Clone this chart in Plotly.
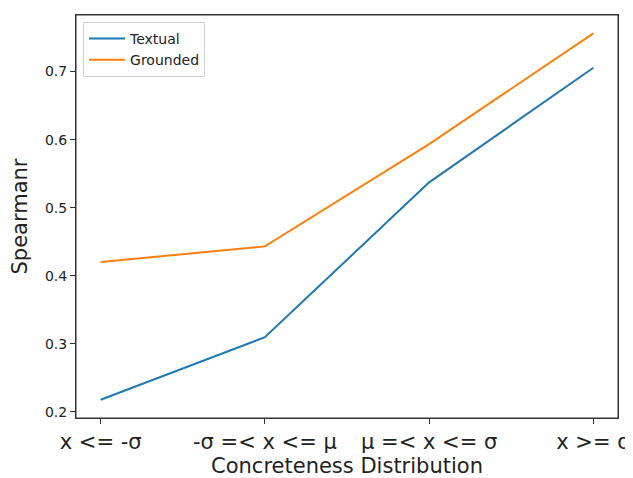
import plotly.graph_objects as go

categories = ["x <= -σ", "-σ =< x <= μ", "μ =< x <= σ", "x >= σ"]
textual = [0.2176, 0.3094, 0.5372, 0.7056]
grounded = [0.4200, 0.4430, 0.5934, 0.7563]
y_ticks = [0.2, 0.3, 0.4, 0.5, 0.6, 0.7]

xpos = list(range(len(categories)))

fig = go.Figure()
fig.add_trace(go.Scatter(x=xpos, y=textual, mode="lines", name="Textual",
                         line=dict(color="#1f77b4", width=2)))
fig.add_trace(go.Scatter(x=xpos, y=grounded, mode="lines", name="Grounded",
                         line=dict(color="#ff7f0e", width=2)))

font = "DejaVu Sans, sans-serif"
# page body has an 8px margin, so the figure is sized/offset to compensate
fig.update_layout(
    width=625, height=470,
    margin=dict(l=68, r=15, t=7, b=60),
    paper_bgcolor="white", plot_bgcolor="white",
    font=dict(family=font, color="#222"),
    showlegend=True,
    legend=dict(x=0.013, y=0.983, xanchor="left", yanchor="top",
                bgcolor="rgba(255,255,255,0.8)", bordercolor="#d0d0d0", borderwidth=1,
                itemwidth=36,
                font=dict(size=14, family=font, color="#222"), tracegroupgap=0),
    xaxis=dict(
        range=[-0.15, 3.15], tickmode="array", tickvals=xpos, ticktext=categories,
        automargin=False, ticklabeloverflow="allow",
        showgrid=False, zeroline=False, showline=True, linecolor="#333", linewidth=1,
        mirror=True, ticks="outside", ticklen=5, tickcolor="#333",
        tickfont=dict(size=21, family=font, color="#222"),
        title=dict(text="Concreteness Distribution", font=dict(size=21, family=font, color="#222"), standoff=12),
    ),
    yaxis=dict(
        range=[0.1907, 0.7832], tickmode="array", tickvals=y_ticks,
        ticktext=[f"{v:.1f}" for v in y_ticks],
        automargin=False,
        showgrid=False, zeroline=False, showline=True, linecolor="#333", linewidth=1,
        mirror=True, ticks="outside", ticklen=5, tickcolor="#333",
        tickfont=dict(size=14, family=font, color="#222"),
        title=dict(text="Spearmanr", font=dict(size=21, family=font, color="#222"), standoff=12),
    ),
    shapes=[dict(type="rect", xref="paper", yref="paper", x0=0, x1=1, y0=0, y1=1,
                 line=dict(color="#333", width=1), layer="above")],
)

fig.write_html("out.html")
